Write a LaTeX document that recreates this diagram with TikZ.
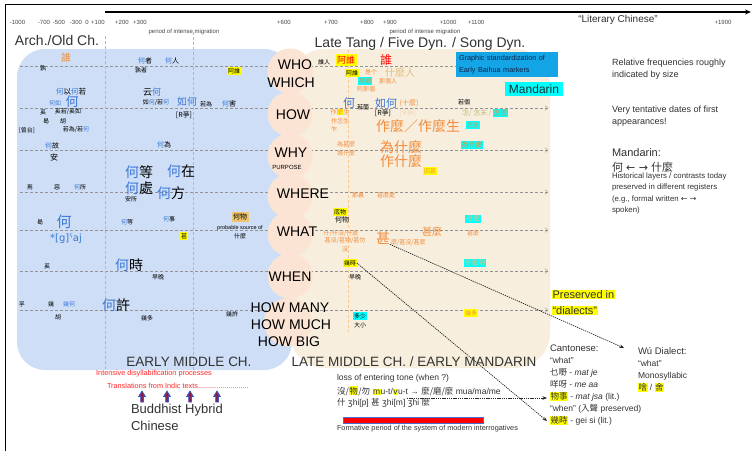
\documentclass[tikz,border=0pt]{standalone}
\usepackage{fontspec}
\setmainfont{Liberation Sans}
\newfontfamily\cjk{Noto Sans CJK TC}
\newfontfamily\dvs{DejaVu Sans}
\usetikzlibrary{arrows.meta}
\definecolor{qblue}{RGB}{60,120,216}
\definecolor{qorange}{RGB}{243,140,60}
\definecolor{qtan}{RGB}{228,190,130}
\definecolor{qolive}{RGB}{196,190,120}
\definecolor{hly}{RGB}{255,255,0}
\definecolor{hlc}{RGB}{0,255,255}
\definecolor{bluebg}{RGB}{205,222,246}
\definecolor{beigebg}{RGB}{247,238,221}
\definecolor{peachbg}{RGB}{252,228,212}
\definecolor{stdbox}{RGB}{20,165,230}
\definecolor{tanbox}{RGB}{240,195,110}
\definecolor{qred}{RGB}{255,40,40}
\definecolor{txtgrey}{RGB}{50,50,50}
\definecolor{axgrey}{RGB}{70,70,70}
\definecolor{barblue}{RGB}{70,110,210}
\definecolor{arrfill}{RGB}{140,30,70}
\definecolor{arrline}{RGB}{50,90,210}
\newcommand\qb[1]{\textcolor{qblue}{#1}}
\newcommand\hlY[1]{{\setlength{\fboxsep}{0.5pt}\colorbox{hly}{#1}}}
\newcommand\hlC[1]{{\setlength{\fboxsep}{0.5pt}\colorbox{hlc}{#1}}}
\tikzset{
  every node/.style={inner sep=0pt, outer sep=0pt},
  cj/.style={font=\cjk\fontsize{#1}{#1}\selectfont},
  lat/.style={font=\fontsize{#1}{#1}\selectfont},
  qlab/.style={font=\fontsize{14}{14}\selectfont, text=black},
  ybox/.style={fill=hly, inner sep=0.8pt},
  cbox/.style={fill=hlc, inner sep=0.8pt},
  gridline/.style={draw=gray!85, densely dashed, line width=0.4pt, -{Straight Barb[length=2.5pt,width=4.5pt]}},
  redv/.style={draw=red!40, densely dashed, line width=0.4pt},
  orv/.style={draw=orange!45, densely dashed, line width=0.4pt},
  dotarrow/.style={draw=black!85, dash pattern=on 1.3pt off 0.9pt, line width=0.7pt, -{Stealth[length=4.5pt,width=3.5pt]}},
  axlab/.style={font=\fontsize{6}{6}\selectfont, text=axgrey},
}
\begin{document}
\begin{tikzpicture}[x=1pt,y=-1pt]
\useasboundingbox (0,0) rectangle (752,451);
\fill[white] (0,0) rectangle (752,451);
% frame and timeline
\draw[line width=0.8pt] (752,4) -- (5,4) -- (5,451);
\coordinate (tl0) at (105,12);
\coordinate (tl1) at (751,12);
\draw[line width=1.3pt, -{Stealth[length=6pt,width=5pt]}] (tl0) -- (tl1);

% backgrounds
\fill[bluebg, rounded corners=28pt] (17,49) rectangle (292,370);
\fill[beigebg, rounded corners=35pt] (290,49) rectangle (550,368);

% grid lines (under circles)
\foreach \yy [count=\i] in {66,108,150,192,230,271,310} {
  \coordinate (ga\i) at (20,\yy);
  \coordinate (gb\i) at (548,\yy);
  \draw[gridline] (ga\i) -- (gb\i);
}
% vertical period lines
\coordinate (va1) at (105,36); \coordinate (vb1) at (105,371);
\coordinate (va2) at (193,32); \coordinate (vb2) at (193,371);
\coordinate (va3) at (348,50); \coordinate (vb3) at (348,332);
\draw[redv] (va1) -- (vb1);
\draw[redv] (va2) -- (vb2);
\draw[orv] (va3) -- (vb3);

% peach circles
\foreach \yy in {71,114,156,196,234,276} { \fill[peachbg] (290,\yy) circle (22.5); }
\fill[peachbg] (288,322) circle (24);

% axis labels
\foreach \xx/\tt [count=\i] in {17.5/-1000,44/-700,59/-500,76/-300,87/0,98/+100,122/+200,140/+300,284/+600,331/+700,367/+800,390/+900,448/+1000,476/+1100,723/+1900} {
  \node[axlab] (ax\i) at (\xx,22.5) {\tt};
}
\node[lat=10, text=txtgrey] (litc) at (618,20) {“Literary Chinese”};
\node[lat=6, text=axgrey] (mig1) at (184,32) {period of intense migration};
\node[lat=6, text=axgrey] (mig2) at (425,32) {period of intense migration};
\node[lat=14, text=txtgrey] (arch) at (57,40) {Arch./Old Ch.};
\node[lat=14, text=txtgrey] (late) at (420,44) {Late Tang / Five Dyn. / Song Dyn.};

% question labels
\node[qlab] (qwho) at (295,65) {WHO};
\node[qlab] (qwhich) at (291,83) {WHICH};
\node[qlab] (qhow) at (293,115) {HOW};
\node[qlab] (qwhy) at (291,153) {WHY};
\node[lat=6] (qpur) at (287,167) {PURPOSE};
\node[qlab] (qwhere) at (303,194) {WHERE};
\node[qlab] (qwhat) at (297,232) {WHAT};
\node[qlab] (qwhen) at (290,277) {WHEN};
\node[qlab] (qmany) at (290,308) {HOW MANY};
\node[qlab] (qmuch) at (291,325) {HOW MUCH};
\node[qlab] (qbig) at (289,342) {HOW BIG};

% blue (Old / Early Middle Chinese) items
\node[cj=10, text=qorange] (b1) at (66,58) {誰};
\node[cj=6] (b2) at (43,68) {孰};
\node[cj=7] (b3) at (145,61) {\qb{何}者};
\node[cj=7] (b4) at (172,61) {\qb{何}人};
\node[cj=6] (b5) at (141,70) {孰者};
\node[cj=6, ybox] (b6) at (234,71) {阿誰};
\node[cj=7.5] (b7) at (71,92) {\qb{何}以\qb{何}若};
\node[cj=6, text=qblue] (b8) at (55,103) {何如};
\node[cj=13, text=qblue] (b9) at (72,102) {何};
\node[cj=6] (b10) at (43,112) {奚};
\node[cj=6] (b11) at (68,112) {奚若/奚如};
\node[cj=6] (b12) at (46,121) {曷};
\node[cj=6] (b13) at (63,121) {胡};
\node[cj=6] (b14) at (27,130) {[曾台]};
\node[cj=6] (b15) at (76,130) {若為/若\qb{何}};
\node[cj=7] (b16) at (52,146) {\qb{何}故};
\node[cj=8] (b17) at (54,157) {安};
\node[cj=9] (b18) at (152,92) {云\qb{何}};
\node[cj=6] (b19) at (156,103) {如\qb{何}/若\qb{何}};
\node[cj=10, text=qblue] (b20) at (187,102) {如何};
\node[cj=6] (b21) at (206,104) {若為};
\node[cj=7] (b22) at (229,104) {\qb{何}害};
\node[cj=7] (b23) at (184,115) {[R爭]};
\node[cj=7] (b24) at (164,145) {\qb{何}為};
\node[cj=14] (b25) at (139,172) {\qb{何}等};
\node[cj=14] (b26) at (181,171) {\qb{何}在};
\node[cj=6] (b27) at (30,187) {焉};
\node[cj=6] (b28) at (57,187) {惡};
\node[cj=6] (b29) at (80,187) {\qb{何}所};
\node[cj=14] (b30) at (139,188) {\qb{何}處};
\node[cj=14] (b31) at (171,193) {\qb{何}方};
\node[cj=6] (b32) at (131,199) {安所};
\node[cj=6] (b33) at (40,222) {曷};
\node[cj=15, text=qblue] (b34) at (64,222) {何};
\node[font=\dvs\fontsize{10}{10}\selectfont, text=qblue] (b35) at (66,239) {*[g]ˤaj};
\node[cj=6] (b36) at (127,222) {\qb{何}等};
\node[cj=6] (b37) at (169,219) {\qb{何}事};
\node[cj=7, fill=tanbox, inner sep=1.5pt] (b38) at (240,217) {何物};
\node[lat=5.5] (b39) at (240,228) {probable source of};
\node[cj=6] (b40) at (240,236) {什麼};
\node[cj=6, ybox] (b41) at (184,236) {甚};
\node[cj=6] (b42) at (47,266) {奚};
\node[cj=14] (b43) at (129,265) {\qb{何}時};
\node[cj=6] (b44) at (158,277) {早晚};
\node[cj=6] (b45) at (22,304) {孚};
\node[cj=6] (b46) at (51,304) {幾};
\node[cj=6, text=qblue] (b47) at (69,304) {幾何};
\node[cj=6] (b48) at (58,317) {胡};
\node[cj=14] (b49) at (116,305) {\qb{何}許};
\node[cj=6] (b50) at (147,318) {幾多};
\node[cj=6] (b51) at (232,314) {幾許};

% beige (Late Middle / Early Mandarin) items
\node[cj=6] (o1) at (324,62) {誰人};
\node[cj=9, fill=hly, inner sep=1.5pt, text=red] (o2) at (346,60) {阿誰};
\node[cj=12, text=red] (o3) at (386,60) {誰};
\node[cj=6, ybox] (o4) at (352,73) {阿誰};
\node[cj=6, text=qorange] (o5) at (371,72) {是个};
\node[cj=10, text=qtan] (o6) at (400,73) {什麼人};
\node[cj=6, cbox, text=qorange] (o7) at (365,81) {那個};
\node[cj=6, text=qorange] (o8) at (388,81) {那個人};
\node[cj=6, text=qorange] (o9) at (366,89) {阿那個};
\node[cj=12, text=qblue] (o10) at (349,103) {何};
\node[cj=6] (o11) at (363,107) {若箇};
\node[cj=11, text=qblue] (o12) at (386,103) {如何};
\node[cj=7, text=qorange] (o13) at (409,103) {(十麼)};
\node[cj=7] (o14) at (383,113) {[R爭]};
\node[cj=7, text=qtan!60] (o15) at (408,113) {[R爭]};
\node[cj=6, text=qorange] (o16) at (340,112) {作\hlY{麼}生};
\node[cj=6, text=qorange] (o17) at (340,121) {作怎生};
\node[cj=6, text=qorange] (o18) at (334,129) {乍};
\node[cj=14, text=qorange] (o19) at (418,126) {作麼／作麼生};
\node[cj=6, text=qorange] (o20) at (346,144) {為甚麼};
\node[cj=6, text=qorange] (o21) at (346,153) {為什麼};
\node[cj=14, text=qorange] (o22) at (401,147) {為什麼};
\node[cj=14, text=qorange] (o23) at (401,161) {作什麼};
\node[cj=6, ybox, text=qorange] (o24) at (430,171) {因甚};

\node[fill=stdbox, anchor=north west, inner xsep=3pt, inner ysep=3pt, minimum width=102pt, minimum height=25pt, text width=96pt, align=left, font=\fontsize{7.3}{11.5}\selectfont, text={rgb,255:red,15;green,35;blue,70}] (std) at (456,52) {Graphic standardization of\\Early Baihua markers};
\node[fill=hlc, minimum width=58pt, minimum height=14pt, lat=12, text={rgb,255:red,10;green,50;blue,50}] (mand) at (534,89) {Mandarin};
\node[cj=6] (o25) at (464,102) {若個};
\node[cj=7, text=qolive, anchor=west] (o26) at (462,113) {怎/ 怎末 / \hlC{\textcolor{qorange}{怎麼}}};
\node[cj=6, cbox, text=qorange] (o27) at (473,125) {怎生};
\node[cj=7, cbox, text=qorange] (o28) at (472,145) {為什麼};

\node[cj=6, text=qorange] (o29) at (358,195) {那裏};
\node[cj=6, text=qorange] (o30) at (386,195) {甚麼處};
\node[cj=6, ybox] (o31) at (340,212) {底物};
\node[cj=7] (o32) at (342,220) {何物};
\node[cj=6, text=qorange] (o33) at (341,233) {什/什沒/什麼};
\node[cj=6, text=qorange] (o34) at (345,241) {甚沒/甚物/甚勿};
\node[cj=6, text=qorange] (o35) at (345,249) {沒};
\node[cj=14, text=qorange] (o36) at (383,238) {甚};
\node[cj=6, text=qorange, anchor=west] (o37) at (391,242) {麼/甚沒/甚麼};
\node[cj=10, text=qorange] (o38) at (432,232) {甚麼};
\node[cj=7, cbox, text=qtan] (o39) at (473,219) {什麼};
\node[cj=6, text=qorange] (o40) at (473,233) {甚麼};
\node[cj=6, ybox] (o41) at (350,263) {幾時};
\node[cj=6] (o42) at (355,277) {早晚};
\node[cj=7, cbox, text=qtan] (o43) at (475,263) {什麼時};
\node[cj=6, cbox] (o44) at (360,316) {多少};
\node[cj=6] (o45) at (360,325) {大小};
\node[cj=6, ybox, text=qorange] (o46) at (471,313) {幾多};

% period labels
\node[lat=13.5, text=txtgrey] (emc) at (189,362) {EARLY MIDDLE CH.};
\node[lat=13.5, text=txtgrey] (lmc) at (414,362) {LATE MIDDLE CH. / EARLY MANDARIN};
\node[lat=7.3, text=qred] (r1) at (154,374) {Intensive disyllabification processes};
\node[lat=7.3, text=qred, anchor=west] (r2) at (107,386) {Translations from Indic texts.........................};
\foreach \xx in {142,167,190,217} {
  \draw[fill=arrfill, draw=arrline, line width=0.7pt] (\xx-1.4,402) -- (\xx-1.4,396.5) -- (\xx-3.4,396.5) -- (\xx,391) -- (\xx+3.4,396.5) -- (\xx+1.4,396.5) -- (\xx+1.4,402) -- cycle;
}
\node[anchor=north west, align=left, font=\fontsize{13}{17}\selectfont, text=txtgrey] (bhc) at (131,404) {Buddhist Hybrid\\Chinese};

% entering tone notes
\node[lat=8.5, text=txtgrey, anchor=west] (lt1) at (337,378) {loss of entering tone (when ?)};
\node[lat=8.5, text=txtgrey, anchor=west] (lt2) at (337,391) {{\cjk 沒/\hlY{物}/勿} \hlY{m}u-t/\hlY{v}u-t → {\cjk 麼/磨/麼} mua/ma/me};
\node[lat=8.5, text=txtgrey, anchor=west] (lt3) at (337,403) {{\cjk 什} {\dvs ʒ}hi[p] {\cjk 甚} {\dvs ʒ}hi[m] {\dvs ʒ}hi {\cjk 麼}};
\node[draw=barblue, fill=red, minimum width=140pt, minimum height=6pt, line width=0.8pt] (bar) at (413,420) {};
\node[lat=7.3, text=txtgrey, anchor=west] (form) at (337,429) {Formative period of the system of modern interrogatives};

% right notes
\node[anchor=north west, align=left, font=\fontsize{9}{12}\selectfont, text=txtgrey] (n1) at (612,59) {Relative frequencies roughly\\indicated by size};
\node[anchor=north west, align=left, font=\fontsize{9}{12}\selectfont, text=txtgrey] (n2) at (612,106) {Very tentative dates of first\\appearances!};
\node[lat=11, text=txtgrey, anchor=west] (n3) at (612,153) {Mandarin:};
\node[lat=11, text=txtgrey, anchor=west] (n4) at (612,167) {{\cjk 何} {\dvs ← →} {\cjk 什麼}};
\node[anchor=north west, align=left, font=\fontsize{7.8}{11.3}\selectfont, text=txtgrey] (n5) at (612,173) {Historical layers / contrasts today\\preserved in different registers\\(e.g., formal written {\dvs ← →}\\spoken)};

% dialects
\node[anchor=north west, align=left, font=\fontsize{11}{16}\selectfont, text=txtgrey] (pres) at (552,290) {\hlY{Preserved in}\\\hlY{“dialects”}};
\node[anchor=north west, align=left, font=\fontsize{8.5}{12}\selectfont, text=txtgrey] (cant) at (550,345) {{\fontsize{9.5}{12}\selectfont Cantonese:}\\“what”\\{\cjk 乜嘢} - \textit{mat je}\\{\cjk 咩呀} - \textit{me aa}\\\hlY{\cjk 物事} - \textit{mat jsa} (lit.)\\“when” ({\cjk 入聲} preserved)\\\hlY{\cjk 幾時} - gei si (lit.)};
\node[anchor=north west, align=left, font=\fontsize{8.5}{12.3}\selectfont, text=txtgrey] (wu) at (638,347) {{\fontsize{9.5}{12}\selectfont Wú Dialect:}\\“what”\\Monosyllabic\\\hlY{\cjk 啥} / \hlY{\cjk 舍}};

% dotted connectors
\coordinate (wuT) at (624,348);
\coordinate (cB) at (547,421);
\coordinate (cS) at (407,398);
\coordinate (cC) at (547,398);
\draw[dotarrow] (o36.south east) -- (wuT);
\draw[dotarrow] (o41.east) -- (cB);
\draw[dotarrow] (cS) -- (cC);
\end{tikzpicture}
\end{document}
